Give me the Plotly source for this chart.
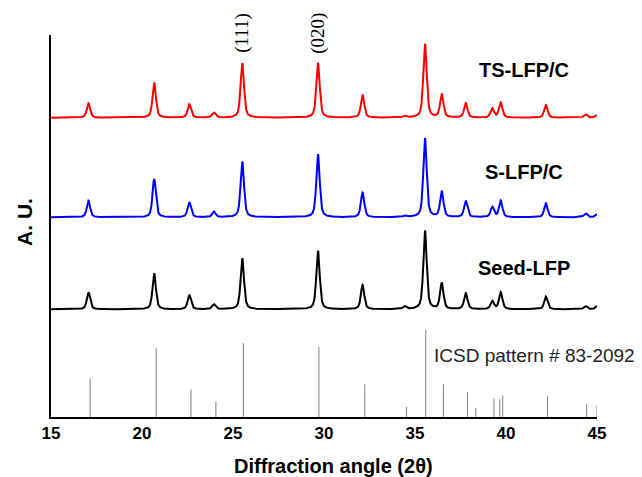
import numpy as np
import plotly.graph_objects as go

# ---- data (intensity in arbitrary units, offsets per pattern) ----
peak_pos = [17.06, 20.67, 22.60, 23.95, 25.51, 29.67, 32.12, 34.43, 35.55,
            36.47, 37.79, 39.25, 39.71, 42.19, 44.37, 45.00]
ts_heights = [14.4, 35.0, 13.4, 5.0, 54.4, 54.7, 22.7, 1.5, 73.7,
              23.4, 14.4, 9.0, 15.0, 12.7, 3.4, 2.5]
s_heights = [16.6, 38.3, 15.0, 5.6, 55.6, 63.0, 24.6, 1.5, 79.0,
             25.6, 16.3, 10.0, 16.5, 14.0, 4.0, 3.0]
seed_heights = [17.0, 36.0, 14.3, 5.0, 51.0, 58.3, 24.3, 3.0, 78.5,
                26.0, 16.0, 8.0, 17.0, 12.6, 3.3, 3.3]
ts_offset, s_offset, seed_offset = 299.3, 199.7, 107.7

icsd_pos = [17.15, 20.78, 22.69, 24.06, 25.57, 29.72, 32.24, 34.53, 35.59,
            36.56, 37.88, 38.34, 39.34, 39.66, 39.82, 42.28, 44.43, 45.0]
icsd_int = [38.4, 69.0, 27.4, 15.0, 74.0, 70.0, 32.7, 10.0, 87.4,
            32.7, 25.0, 9.0, 18.4, 17.7, 21.7, 20.7, 12.7, 11.7]

x_ticks = [15, 20, 25, 30, 35, 40, 45]

FWHM = 0.22
ETA = 0.55


def pattern(x, pos, hts, offset):
    y = np.full_like(x, offset)
    g = FWHM / 2.0
    for p, h in zip(pos, hts):
        lor = 1.0 / (1.0 + ((x - p) / g) ** 2)
        gau = np.exp(-np.log(2) * ((x - p) / g) ** 2)
        y = y + h * (ETA * lor + (1 - ETA) * gau)
    return y


xg = np.linspace(15, 45, 3001)

fig = go.Figure()
fig.add_trace(go.Scatter(x=xg, y=pattern(xg, peak_pos, ts_heights, ts_offset),
                         mode="lines", line=dict(color="#ff0000", width=2),
                         showlegend=False, hoverinfo="skip"))
fig.add_trace(go.Scatter(x=xg, y=pattern(xg, peak_pos, s_heights, s_offset),
                         mode="lines", line=dict(color="#0000ff", width=2),
                         showlegend=False, hoverinfo="skip"))
fig.add_trace(go.Scatter(x=xg, y=pattern(xg, peak_pos, seed_heights, seed_offset),
                         mode="lines", line=dict(color="#000000", width=2),
                         showlegend=False, hoverinfo="skip"))

sx, sy = [], []
for p, h in zip(icsd_pos, icsd_int):
    sx += [p, p, None]
    sy += [0, h, None]
fig.add_trace(go.Scatter(x=sx, y=sy, mode="lines",
                         line=dict(color="#7f7f7f", width=1),
                         showlegend=False, hoverinfo="skip"))

bold = dict(family="Liberation Sans, Arial, sans-serif", color="black", weight="bold")
serif = dict(family="Liberation Serif, Times New Roman, serif", size=19, color="black")
ann = []
ann.append(dict(x=25.48, yref="paper", y=1.005, text="(111)", textangle=-90, showarrow=False,
                xanchor="center", yanchor="middle", font=serif))
ann.append(dict(x=29.65, yref="paper", y=1.005, text="(020)", textangle=-90, showarrow=False,
                xanchor="center", yanchor="middle", font=serif))
ann.append(dict(x=40.99, y=347, text="TS-LFP/C", showarrow=False,
                xanchor="center", yanchor="middle", font=dict(size=20, **bold)))
ann.append(dict(x=40.99, y=245, text="S-LFP/C", showarrow=False,
                xanchor="center", yanchor="middle", font=dict(size=20, **bold)))
ann.append(dict(x=40.99, y=149, text="Seed-LFP", showarrow=False,
                xanchor="center", yanchor="middle", font=dict(size=20, **bold)))
ann.append(dict(x=35.95, y=62, text="ICSD pattern # 83-2092", showarrow=False,
                xanchor="left", yanchor="middle",
                font=dict(family="Liberation Sans, Arial, sans-serif", size=19, color="#222222")))
ann.append(dict(xref="paper", yref="paper", x=-0.05, y=0.51, text="A. U.", textangle=-90,
                showarrow=False, xanchor="center", yanchor="middle", font=dict(size=21, **bold)))
ann.append(dict(xref="paper", yref="paper", x=0.5165, y=-0.128, text="Diffraction angle (2θ)",
                showarrow=False, xanchor="center", yanchor="middle", font=dict(size=20, **bold)))

fig.update_layout(
    width=642, height=477,
    margin=dict(l=51, r=45, t=35, b=60),
    paper_bgcolor="white", plot_bgcolor="white",
    annotations=ann,
    xaxis=dict(range=[15, 45], tickmode="array", tickvals=x_ticks,
               ticktext=[str(v) for v in x_ticks],
               showgrid=False, zeroline=False, showline=True,
               linecolor="black", linewidth=1.5, ticks="", ticklen=0,
               tickfont=dict(size=17, **bold)),
    yaxis=dict(range=[0, 382], showgrid=False, zeroline=False, showline=True,
               linecolor="black", linewidth=1.5, showticklabels=False, ticks=""),
)

fig.write_html("out.html")
